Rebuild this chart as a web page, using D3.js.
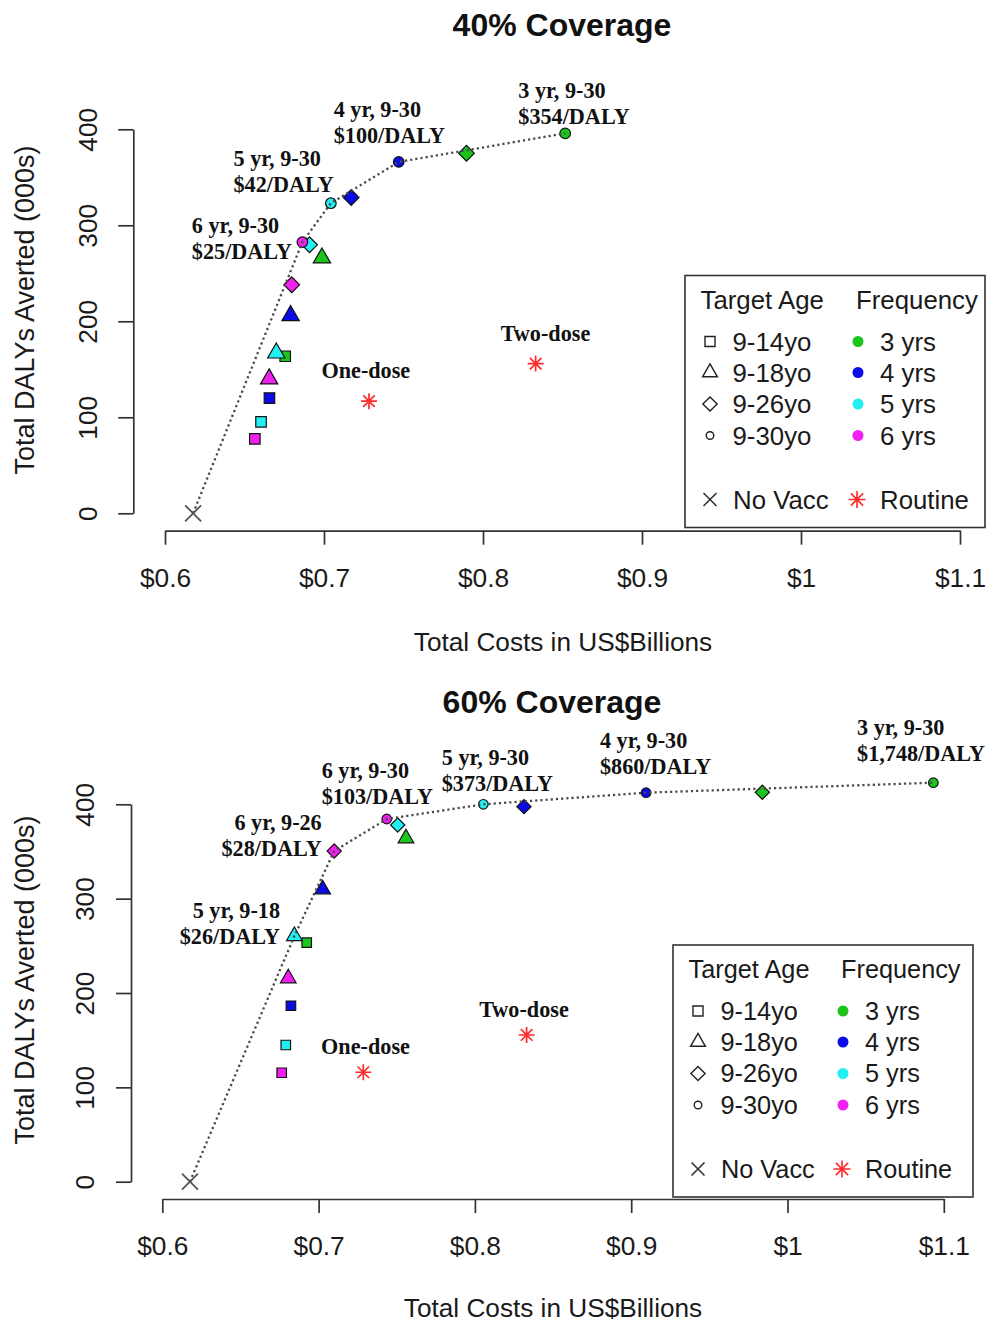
<!DOCTYPE html>
<html>
<head>
<meta charset="utf-8">
<script src="https://cdn.jsdelivr.net/npm/d3@7"></script>
<style>
  body { margin: 0; background: #fff; }
  svg { display: block; }
  .lab  { font-family: "Liberation Serif", "Times New Roman", serif; font-weight: bold; font-size: 22.2px; fill: #111; }
  .sans { font-family: "Liberation Sans", Arial, sans-serif; fill: #1a1a1a; }
</style>
</head>
<body>
<svg id="chart" width="987" height="1322"></svg>
<script>
"use strict";

// ---- data ----
var ageGroups   = ["9-14yo", "9-18yo", "9-26yo", "9-30yo"];
var freqLabels  = ["3 yrs", "4 yrs", "5 yrs", "6 yrs"];
var xTicks      = [0.6, 0.7, 0.8, 0.9, 1.0, 1.1];
var xTickLabels = ["$0.6", "$0.7", "$0.8", "$0.9", "$1", "$1.1"];
var yTicks      = [0, 100, 200, 300, 400];
var routineNames = ["One-dose", "Two-dose"];

// rows = frequency (3,4,5,6 yrs), columns = target age group
// total costs, US$ billions
var cost40 = [[0.6756, 0.6987, 0.7896, 0.8517],
              [0.6657, 0.6790, 0.7171, 0.7470],
              [0.6604, 0.6700, 0.6909, 0.7043],
              [0.6565, 0.6655, 0.6797, 0.6864]];
// total DALYs averted (000s)
var dalys40 = [[163.6, 266.0, 375.0, 395.8],
               [120.0, 206.0, 329.0, 366.0],
               [ 95.3, 167.0, 279.7, 323.0],
               [ 77.6, 140.0, 238.0, 282.5]];
var cost60 = [[0.6924, 0.7559, 0.9839, 1.0933],
              [0.6823, 0.7026, 0.8314, 0.9095],
              [0.6790, 0.6845, 0.7506, 0.8054],
              [0.6764, 0.6806, 0.7100, 0.7436]];
var dalys60 = [[253.3, 364.0, 412.7, 422.9],
               [186.5, 309.9, 397.5, 412.3],
               [144.9, 260.4, 378.0, 400.0],
               [115.5, 215.6, 350.5, 384.4]];

var noVacc = [0.6177, 0];
var routineCost40  = [0.7283, 0.8331];
var routineDalys40 = [116.8, 156.0];
var routineCost60  = [0.7286, 0.8331];
var routineDalys60 = [116.0, 155.5];

// efficiency frontier, [frequency index, age index], starting from No Vacc
var frontier40 = [[3, 3], [2, 3], [1, 3], [0, 3]];
var frontier60 = [[2, 1], [3, 2], [3, 3], [2, 3], [1, 3], [0, 3]];
var frontierText40 = [["6 yr, 9-30", "$25/DALY"], ["5 yr, 9-30", "$42/DALY"],
                      ["4 yr, 9-30", "$100/DALY"], ["3 yr, 9-30", "$354/DALY"]];
var frontierText60 = [["5 yr, 9-18", "$26/DALY"], ["6 yr, 9-26", "$28/DALY"],
                      ["6 yr, 9-30", "$103/DALY"], ["5 yr, 9-30", "$373/DALY"],
                      ["4 yr, 9-30", "$860/DALY"], ["3 yr, 9-30", "$1,748/DALY"]];

// ---- annotation placement (data units, like R text()) ----
var labelPos40 = [[0.6169, 300.5, "start"], [0.6431, 369.8, "start"],
                  [0.7061, 420.8, "start"], [0.8222, 441.0, "start"]];
var labelPos60 = [[0.6753, 288.0, "end"], [0.7020, 380.5, "end"],
                  [0.7020, 436.4, "start"], [0.7788, 450.4, "start"],
                  [0.8800, 467.4, "start"], [1.0445, 482.2, "start"]];
var routinePos40 = [[0.7263, 148.7], [0.8393, 187.2]];
var routinePos60 = [[0.7300, 143.8], [0.8314, 182.7]];

// ---- styles ----
var freqColours = ["#1cc41c", "#0b0be6", "#22f0f0", "#f020f0"];
var axisColour = "#333";
var svg = d3.select("#chart");

function crossPath(r) {
  return "M" + (-r) + "," + (-r) + "L" + r + "," + r +
         "M" + (-r) + "," + r + "L" + r + "," + (-r);
}
function starPath(r) {
  var k = r * 0.72;
  return "M" + (-r) + ",0H" + r + "M0," + (-r) + "V" + r +
         "M" + (-k) + "," + (-k) + "L" + k + "," + k +
         "M" + (-k) + "," + k + "L" + k + "," + (-k);
}
// marker for an age group, k scales the size
function ageSymbol(a, k) {
  switch (a) {
    case 0: return { d: d3.symbol(d3.symbolSquare, 100 * k * k)(), rot: 0 };
    case 1: return { d: d3.symbol(d3.symbolTriangle, 118 * k * k)(), rot: 0 };
    case 2: return { d: d3.symbol(d3.symbolSquare, 112 * k * k)(), rot: 45 };
    default: return { d: d3.symbol(d3.symbolCircle, 80 * k * k)(), rot: 0 };
  }
}

function legend(x0, y0, col2, fs) {
  var g = svg.append("g").attr("transform", "translate(" + x0 + "," + y0 + ")");
  g.append("rect")
    .attr("width", 300).attr("height", 252)
    .attr("fill", "#fff").attr("stroke", axisColour).attr("stroke-width", 1.6);
  g.append("text").attr("class", "sans").attr("x", 15.5).attr("y", 24.5)
    .attr("dy", "0.35em").style("font-size", fs).text("Target Age");
  g.append("text").attr("class", "sans").attr("x", col2 - 2).attr("y", 24.5)
    .attr("dy", "0.35em").style("font-size", fs).text("Frequency");
  var rowY = [66, 97, 128.5, 160];
  var legSize = [1.0, 0.9, 0.95, 0.75];
  ageGroups.forEach(function(a, i) {
    var s = ageSymbol(i, legSize[i]);
    g.append("path")
      .attr("d", s.d)
      .attr("transform", "translate(25," + rowY[i] + ") rotate(" + s.rot + ")")
      .attr("fill", "none").attr("stroke", "#222").attr("stroke-width", 1.4);
    g.append("text").attr("class", "sans").attr("x", 47.5).attr("y", rowY[i])
      .attr("dy", "0.35em").style("font-size", fs).text(a);
  });
  freqLabels.forEach(function(f, i) {
    g.append("circle").attr("cx", col2).attr("cy", rowY[i]).attr("r", 5.5)
      .attr("fill", freqColours[i]);
    g.append("text").attr("class", "sans").attr("x", col2 + 22).attr("y", rowY[i])
      .attr("dy", "0.35em").style("font-size", fs).text(f);
  });
  g.append("path").attr("d", crossPath(6.5))
    .attr("transform", "translate(25,224)")
    .attr("stroke", "#333").attr("stroke-width", 1.6).attr("fill", "none");
  g.append("text").attr("class", "sans").attr("x", 48).attr("y", 224)
    .attr("dy", "0.35em").style("font-size", fs).text("No Vacc");
  g.append("path").attr("d", starPath(8.5))
    .attr("transform", "translate(" + (col2 - 1) + ",224)")
    .attr("stroke", "#ff2a2a").attr("stroke-width", 1.6).attr("fill", "none");
  g.append("text").attr("class", "sans").attr("x", col2 + 22).attr("y", 224)
    .attr("dy", "0.35em").style("font-size", fs).text("Routine");
}

function panel(p) {
  var x = d3.scaleLinear().domain([0.6, 1.1]).range(p.xRange);
  var y = d3.scaleLinear().domain([0, 400]).range(p.yRange);
  var g = svg.append("g");

  // title
  g.append("text").attr("class", "sans")
    .attr("x", p.titleX).attr("y", p.titleY).attr("dy", "0.35em")
    .attr("text-anchor", "middle")
    .style("font-size", "32px").style("font-weight", "bold").style("fill", "#111")
    .text(p.title);

  // x axis
  var xa = g.append("g")
    .attr("transform", "translate(0," + p.xAxisY + ")")
    .call(d3.axisBottom(x)
      .tickValues(xTicks)
      .tickFormat(function(d, i) { return xTickLabels[i]; })
      .tickSize(14).tickSizeOuter(0));
  xa.selectAll("path, line").attr("stroke", axisColour).attr("stroke-width", 1.7);
  xa.selectAll("text")
    .attr("class", "sans").attr("y", 47).attr("dy", "0.35em")
    .style("font-size", "26.3px").attr("fill", "#1a1a1a");

  // y axis
  var ya = g.append("g")
    .attr("transform", "translate(" + p.yAxisX + ",0)")
    .call(d3.axisLeft(y).tickValues(yTicks).tickSize(15).tickSizeOuter(0));
  ya.selectAll("path, line").attr("stroke", axisColour).attr("stroke-width", 1.7);
  ya.selectAll("text")
    .attr("class", "sans")
    .attr("transform", "rotate(-90)")
    .attr("x", 0).attr("y", -46).attr("dy", "0.35em")
    .attr("text-anchor", "middle")
    .style("font-size", "26.3px").attr("fill", "#1a1a1a");

  // axis titles
  g.append("text").attr("class", "sans")
    .attr("x", p.titleX + 1).attr("y", p.xTitleY).attr("dy", "0.35em")
    .attr("text-anchor", "middle").style("font-size", "26.2px")
    .text("Total Costs in US$Billions");
  g.append("text").attr("class", "sans")
    .attr("transform", "translate(25," + p.yTitleY + ") rotate(-90)")
    .attr("dy", "0.35em").attr("text-anchor", "middle").style("font-size", "27px")
    .text("Total DALYs Averted (000s)");

  // strategy points
  var pts = [];
  p.cost.forEach(function(row, f) {
    row.forEach(function(c, a) {
      pts.push({ f: f, a: a, cost: c, dalys: p.dalys[f][a] });
    });
  });
  g.selectAll("path.pt").data(pts).enter()
    .append("path").attr("class", "pt")
    .attr("d", function(d) { return ageSymbol(d.a, p.k).d; })
    .attr("transform", function(d) {
      return "translate(" + x(d.cost) + "," + y(d.dalys) + ") rotate(" + ageSymbol(d.a, p.k).rot + ")";
    })
    .attr("fill", function(d) { return freqColours[d.f]; })
    .attr("stroke", "#111").attr("stroke-width", 1.2);

  // routine vaccination points
  p.rCost.forEach(function(c, i) {
    g.append("path").attr("d", starPath(8))
      .attr("transform", "translate(" + x(c) + "," + y(p.rDalys[i]) + ")")
      .attr("stroke", "#ff2a2a").attr("stroke-width", 1.7).attr("fill", "none");
    g.append("text").attr("class", "lab")
      .attr("x", x(p.rPos[i][0])).attr("y", y(p.rPos[i][1])).attr("dy", "0.35em")
      .attr("text-anchor", "middle").text(routineNames[i]);
  });

  // no vaccination
  g.append("path").attr("d", crossPath(8))
    .attr("transform", "translate(" + x(noVacc[0]) + "," + y(noVacc[1]) + ")")
    .attr("stroke", "#555").attr("stroke-width", 1.8).attr("fill", "none");

  // frontier line
  var line = [{ cost: noVacc[0], dalys: noVacc[1] }].concat(p.frontier.map(function(fa) {
    return { cost: p.cost[fa[0]][fa[1]], dalys: p.dalys[fa[0]][fa[1]] };
  }));
  g.append("path")
    .attr("d", d3.line().x(function(d) { return x(d.cost); }).y(function(d) { return y(d.dalys); })(line))
    .attr("fill", "none").attr("stroke", "#4a4a4a").attr("stroke-width", 2.3)
    .attr("stroke-dasharray", "2.2,3");

  // frontier labels
  p.fText.forEach(function(lines, i) {
    var pos = p.fPos[i];
    var t = g.append("text").attr("class", "lab")
      .attr("text-anchor", pos[2])
      .attr("x", x(pos[0])).attr("y", y(pos[1])).attr("dy", "0.35em");
    lines.forEach(function(s, j) {
      t.append("tspan").attr("x", x(pos[0])).attr("dy", j === 0 ? "0.35em" : "26px").text(s);
    });
  });

  legend(p.legendX, p.legendY, p.legendCol2, p.legendFont);
}

panel({
  title: "40% Coverage", titleX: 562, titleY: 25,
  xRange: [165, 960], yRange: [513.3, 129.3],
  xAxisY: 530.7, yAxisX: 133.3, xTitleY: 642, yTitleY: 310,
  cost: cost40, dalys: dalys40, k: 1.05,
  rCost: routineCost40, rDalys: routineDalys40, rPos: routinePos40,
  frontier: frontier40, fText: frontierText40, fPos: labelPos40,
  legendX: 685, legendY: 275.5, legendCol2: 173, legendFont: "25.8px"
});

panel({
  title: "60% Coverage", titleX: 552, titleY: 702,
  xRange: [162.3, 943.8], yRange: [1181.7, 804.3],
  xAxisY: 1199, yAxisX: 131, xTitleY: 1308, yTitleY: 980,
  cost: cost60, dalys: dalys60, k: 0.95,
  rCost: routineCost60, rDalys: routineDalys60, rPos: routinePos60,
  frontier: frontier60, fText: frontierText60, fPos: labelPos60,
  legendX: 673, legendY: 945, legendCol2: 170, legendFont: "25.3px"
});
</script>
</body>
</html>
